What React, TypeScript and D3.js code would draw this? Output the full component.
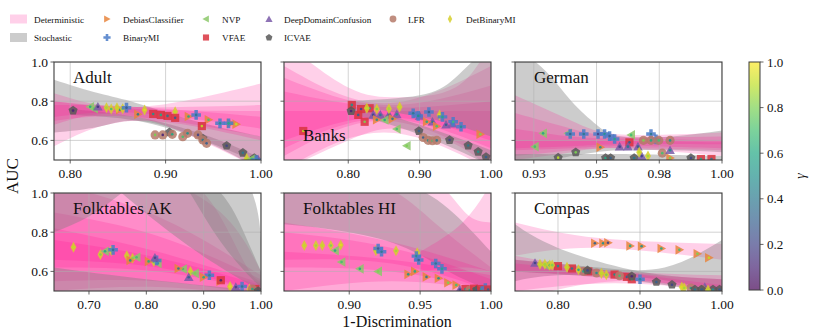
import React from "react";
import * as d3 from "d3";

type Pt = [string, number, number, number]; // method, 1-discrimination, AUC, gamma
type Band = { kind: "det" | "sto"; x: number[]; lo: number[]; hi: number[] };

const methodColor: Record<string, string> = {
  DebiasClassifier: "#e8853d",
  NVP: "#8cc86a",
  DeepDomainConfusion: "#7a5aa8",
  LFR: "#b57a6a",
  DetBinaryMI: "#d6cf2c",
  BinaryMI: "#4a7bc8",
  VFAE: "#d9343f",
  ICVAE: "#585858",
};
const methodMarker: Record<string, string> = {
  DebiasClassifier: "right",
  NVP: "left",
  DeepDomainConfusion: "up",
  LFR: "circle",
  DetBinaryMI: "thin",
  BinaryMI: "plus",
  VFAE: "square",
  ICVAE: "pentagon",
};

// ---- Adult
const adultPoints: Pt[] = [
  ["ICVAE", 0.803, 0.752, 0.1], ["ICVAE", 0.904, 0.641, 0.3], ["ICVAE", 0.939, 0.61, 0.5], ["ICVAE", 0.964, 0.573, 0.2],
  ["ICVAE", 0.981, 0.537, 0.4], ["ICVAE", 0.993, 0.51, 0.6],
  ["NVP", 0.821, 0.772, 0.6], ["NVP", 0.825, 0.762, 0.75],
  ["DeepDomainConfusion", 0.829, 0.772, 0.15], ["DeepDomainConfusion", 0.997, 0.503, 0.2],
  ["DebiasClassifier", 0.852, 0.757, 0.5], ["DebiasClassifier", 0.871, 0.733, 0.4], ["DebiasClassifier", 0.924, 0.722, 0.6],
  ["DebiasClassifier", 0.945, 0.705, 0.7], ["DebiasClassifier", 0.968, 0.687, 0.8], ["DebiasClassifier", 0.974, 0.683, 0.9],
  ["DetBinaryMI", 0.838, 0.767, 0.85], ["DetBinaryMI", 0.843, 0.76, 0.7], ["DetBinaryMI", 0.849, 0.767, 0.9],
  ["DetBinaryMI", 0.855, 0.762, 0.8], ["DetBinaryMI", 0.878, 0.755, 0.95], ["DetBinaryMI", 0.91, 0.746, 0.9],
  ["DetBinaryMI", 0.985, 0.507, 0.9],
  ["BinaryMI", 0.859, 0.767, 0.3], ["BinaryMI", 0.932, 0.73, 0.4], ["BinaryMI", 0.957, 0.687, 0.5], ["BinaryMI", 0.966, 0.687, 0.6],
  ["VFAE", 0.887, 0.735, 0.5], ["VFAE", 0.895, 0.73, 0.6], ["VFAE", 0.902, 0.725, 0.4], ["VFAE", 0.91, 0.715, 0.3],
  ["VFAE", 0.938, 0.673, 0.9],
  ["LFR", 0.889, 0.628, 0.8], ["LFR", 0.897, 0.628, 0.1], ["LFR", 0.907, 0.631, 0.6], ["LFR", 0.918, 0.619, 0.7],
  ["LFR", 0.923, 0.636, 0.5], ["LFR", 0.934, 0.628, 0.2], ["LFR", 0.939, 0.602, 0.4], ["LFR", 0.943, 0.585, 0.3],
  ["NVP", 0.99, 0.505, 0.7], ["BinaryMI", 0.995, 0.5, 0.5],
];
const adultBands: Band[] = [
  { kind: "sto", x: [0.783, 0.83, 0.87, 0.93, 1.0], lo: [0.64, 0.67, 0.7, 0.62, 0.45], hi: [0.91, 0.84, 0.79, 0.7, 0.62] },
  { kind: "sto", x: [0.8, 0.87, 0.94, 1.0], lo: [0.73, 0.7, 0.6, 0.48], hi: [0.76, 0.72, 0.63, 0.51] },
  { kind: "det", x: [0.783, 0.87, 1.0], lo: [0.68, 0.72, 0.45], hi: [0.84, 0.77, 0.89] },
  { kind: "det", x: [0.783, 0.87, 1.0], lo: [0.57, 0.7, 0.6], hi: [0.8, 0.77, 0.78] },
  { kind: "det", x: [0.783, 0.87, 1.0], lo: [0.7, 0.72, 0.62], hi: [0.8, 0.76, 0.75] },
  { kind: "det", x: [0.783, 0.87, 1.0], lo: [0.72, 0.74, 0.66], hi: [0.78, 0.77, 0.72] },
];

// ---- Banks
const banksPoints: Pt[] = [
  ["VFAE", 0.737, 0.648, 0.9], ["VFAE", 0.805, 0.781, 0.5], ["VFAE", 0.814, 0.73, 0.3], ["VFAE", 0.823, 0.695, 0.8],
  ["VFAE", 0.83, 0.764, 0.6], ["VFAE", 0.818, 0.76, 0.2],
  ["ICVAE", 0.804, 0.75, 0.1], ["ICVAE", 0.899, 0.648, 0.3], ["ICVAE", 0.942, 0.602, 0.2], ["ICVAE", 0.968, 0.574, 0.4],
  ["ICVAE", 0.982, 0.542, 0.5], ["ICVAE", 0.993, 0.515, 0.3],
  ["DeepDomainConfusion", 0.835, 0.73, 0.2], ["DeepDomainConfusion", 0.845, 0.73, 0.4], ["DeepDomainConfusion", 0.857, 0.73, 0.3],
  ["DeepDomainConfusion", 0.868, 0.733, 0.5], ["DeepDomainConfusion", 0.9, 0.725, 0.2], ["DeepDomainConfusion", 0.918, 0.695, 0.4],
  ["DeepDomainConfusion", 0.937, 0.68, 0.3], ["DeepDomainConfusion", 0.946, 0.685, 0.6],
  ["DetBinaryMI", 0.826, 0.764, 0.9], ["DetBinaryMI", 0.84, 0.76, 0.8], ["DetBinaryMI", 0.857, 0.762, 0.85],
  ["DetBinaryMI", 0.872, 0.77, 0.9], ["DetBinaryMI", 0.928, 0.73, 0.95],
  ["BinaryMI", 0.891, 0.738, 0.4], ["BinaryMI", 0.898, 0.725, 0.5], ["BinaryMI", 0.913, 0.745, 0.3], ["BinaryMI", 0.932, 0.72, 0.6],
  ["BinaryMI", 0.947, 0.695, 0.7], ["BinaryMI", 0.958, 0.67, 0.5],
  ["NVP", 0.851, 0.704, 0.6], ["NVP", 0.868, 0.658, 0.7], ["NVP", 0.882, 0.573, 0.8],
  ["DebiasClassifier", 0.84, 0.705, 0.5], ["DebiasClassifier", 0.862, 0.71, 0.4], ["DebiasClassifier", 0.91, 0.695, 0.6],
  ["DebiasClassifier", 0.924, 0.672, 0.7], ["DebiasClassifier", 0.985, 0.631, 0.8],
  ["LFR", 0.905, 0.615, 0.3], ["LFR", 0.912, 0.6, 0.5], ["LFR", 0.918, 0.598, 0.7], ["LFR", 0.924, 0.6, 0.4],
];
const banksBands: Band[] = [
  { kind: "det", x: [0.71, 0.8, 0.87, 0.95, 1.0], lo: [0.45, 0.6, 0.66, 0.58, 0.45], hi: [1.1, 0.87, 0.82, 0.87, 1.1] },
  { kind: "det", x: [0.71, 0.85, 1.0], lo: [0.52, 0.7, 0.5], hi: [0.98, 0.79, 0.98] },
  { kind: "det", x: [0.71, 0.85, 1.0], lo: [0.56, 0.71, 0.56], hi: [0.92, 0.78, 0.88] },
  { kind: "det", x: [0.71, 0.85, 1.0], lo: [0.6, 0.72, 0.6], hi: [0.85, 0.77, 0.8] },
  { kind: "det", x: [0.71, 0.85, 1.0], lo: [0.45, 0.64, 0.45], hi: [0.75, 0.75, 0.75] },
  { kind: "sto", x: [0.8, 0.9, 0.95, 1.0], lo: [0.78, 0.72, 0.68, 0.62], hi: [0.8, 0.83, 0.92, 1.1] },
  { kind: "sto", x: [0.8, 0.9, 1.0], lo: [0.74, 0.63, 0.47], hi: [0.78, 0.68, 0.55] },
];

// ---- German
const germanPoints: Pt[] = [
  ["NVP", 0.9254, 0.568, 0.7], ["NVP", 0.9287, 0.636, 0.6], ["NVP", 0.9387, 0.636, 0.8], ["NVP", 0.9638, 0.628, 0.7],
  ["ICVAE", 0.9347, 0.512, 0.9], ["ICVAE", 0.9417, 0.539, 0.8], ["ICVAE", 0.9536, 0.51, 0.6], ["ICVAE", 0.9556, 0.51, 0.3],
  ["ICVAE", 0.965, 0.51, 0.4], ["ICVAE", 0.9876, 0.51, 0.2],
  ["BinaryMI", 0.9395, 0.633, 0.3], ["BinaryMI", 0.9449, 0.633, 0.4], ["BinaryMI", 0.9506, 0.633, 0.2], ["BinaryMI", 0.9532, 0.633, 0.5],
  ["BinaryMI", 0.9552, 0.622, 0.3], ["BinaryMI", 0.9572, 0.607, 0.6], ["BinaryMI", 0.9717, 0.633, 0.4], ["BinaryMI", 0.9737, 0.605, 0.5],
  ["DebiasClassifier", 0.9515, 0.565, 0.5], ["DebiasClassifier", 0.9793, 0.51, 0.8],
  ["VFAE", 0.9631, 0.59, 0.3], ["VFAE", 0.9916, 0.505, 0.6], ["VFAE", 0.9958, 0.505, 0.4],
  ["LFR", 0.9687, 0.6, 0.8], ["LFR", 0.9717, 0.6, 0.6], ["LFR", 0.9748, 0.6, 0.7], ["LFR", 0.9793, 0.6, 0.5], ["LFR", 0.9762, 0.535, 0.7],
  ["DeepDomainConfusion", 0.9592, 0.568, 0.2], ["DeepDomainConfusion", 0.9625, 0.568, 0.4], ["DeepDomainConfusion", 0.9665, 0.568, 0.3],
  ["DeepDomainConfusion", 0.9793, 0.55, 0.5], ["DeepDomainConfusion", 0.968, 0.52, 0.2],
  ["DetBinaryMI", 0.967, 0.54, 0.9], ["DetBinaryMI", 0.9705, 0.52, 0.85],
];
const germanBands: Band[] = [
  { kind: "sto", x: [0.9175, 0.93, 0.94, 0.95, 0.96, 0.98, 1.0], lo: [0.5, 0.5, 0.52, 0.54, 0.55, 0.55, 0.54], hi: [1.08, 0.95, 0.8, 0.68, 0.62, 0.62, 0.65] },
  { kind: "det", x: [0.9175, 0.94, 0.96, 1.0], lo: [0.5, 0.54, 0.56, 0.52], hi: [0.83, 0.7, 0.63, 0.64] },
  { kind: "det", x: [0.9175, 0.94, 0.96, 1.0], lo: [0.55, 0.56, 0.57, 0.56], hi: [0.74, 0.66, 0.62, 0.62] },
  { kind: "det", x: [0.9175, 0.94, 0.96, 1.0], lo: [0.52, 0.55, 0.56, 0.55], hi: [0.66, 0.62, 0.61, 0.6] },
  { kind: "det", x: [0.9175, 0.94, 0.96, 1.0], lo: [0.56, 0.57, 0.58, 0.58], hi: [0.6, 0.6, 0.6, 0.59] },
  { kind: "sto", x: [0.9175, 0.94, 0.96, 1.0], lo: [0.49, 0.49, 0.5, 0.5], hi: [0.53, 0.53, 0.53, 0.52] },
];

// ---- Folktables AK
const akPoints: Pt[] = [
  ["DetBinaryMI", 0.673, 0.723, 0.9], ["DetBinaryMI", 0.72, 0.686, 0.8], ["DetBinaryMI", 0.739, 0.706, 0.85],
  ["DetBinaryMI", 0.766, 0.68, 0.9], ["DetBinaryMI", 0.776, 0.667, 0.8], ["DetBinaryMI", 0.813, 0.651, 0.7],
  ["DetBinaryMI", 0.877, 0.6, 0.9], ["DetBinaryMI", 0.946, 0.523, 0.95], ["DetBinaryMI", 0.98, 0.51, 0.9],
  ["NVP", 0.728, 0.703, 0.6], ["NVP", 0.783, 0.672, 0.7], ["NVP", 0.82, 0.641, 0.6], ["NVP", 0.864, 0.612, 0.7], ["NVP", 0.885, 0.59, 0.8],
  ["BinaryMI", 0.742, 0.71, 0.4], ["BinaryMI", 0.818, 0.656, 0.3], ["BinaryMI", 0.91, 0.58, 0.5], ["BinaryMI", 0.967, 0.523, 0.4],
  ["DebiasClassifier", 0.772, 0.656, 0.5], ["DebiasClassifier", 0.804, 0.651, 0.6], ["DebiasClassifier", 0.856, 0.615, 0.4],
  ["DebiasClassifier", 0.9, 0.57, 0.6], ["DebiasClassifier", 0.929, 0.55, 0.7],
  ["VFAE", 0.93, 0.555, 0.1], ["VFAE", 0.99, 0.51, 0.5],
  ["DeepDomainConfusion", 0.815, 0.67, 0.2], ["DeepDomainConfusion", 0.874, 0.57, 0.3], ["DeepDomainConfusion", 0.956, 0.52, 0.2],
  ["LFR", 0.985, 0.51, 0.6], ["ICVAE", 0.995, 0.5, 0.3],
];
const akBands: Band[] = [
  { kind: "det", x: [0.639, 0.8, 0.9, 0.97, 1.0], lo: [0.45, 0.5, 0.5, 0.48, 0.45], hi: [1.2, 1.1, 1.0, 0.65, 0.55] },
  { kind: "det", x: [0.639, 0.8, 0.93, 1.0], lo: [0.45, 0.45, 0.45, 0.45], hi: [1.2, 1.1, 0.9, 0.6] },
  { kind: "det", x: [0.639, 0.82, 1.0], lo: [0.5, 0.52, 0.47], hi: [1.05, 0.88, 0.58] },
  { kind: "det", x: [0.639, 0.82, 1.0], lo: [0.55, 0.55, 0.48], hi: [0.9, 0.78, 0.56] },
  { kind: "det", x: [0.639, 0.82, 1.0], lo: [0.62, 0.6, 0.5], hi: [0.82, 0.7, 0.54] },
  { kind: "det", x: [0.639, 0.82, 1.0], lo: [0.66, 0.62, 0.5], hi: [0.76, 0.67, 0.53] },
  { kind: "sto", x: [0.639, 0.8, 1.0], lo: [0.46, 0.48, 0.45], hi: [0.62, 0.56, 0.5] },
  { kind: "sto", x: [0.639, 0.7, 0.757], lo: [0.8, 0.88, 1.0], hi: [1.2, 1.2, 1.2] },
  { kind: "sto", x: [0.7, 0.757, 0.85, 0.93, 0.97, 1.0], lo: [1.15, 1.0, 0.78, 0.62, 0.55, 0.5], hi: [1.5, 1.4, 1.2, 1.0, 0.8, 0.6] },
  { kind: "sto", x: [0.85, 0.876, 0.93, 0.985, 1.0], lo: [1.1, 1.0, 0.75, 0.56, 0.52], hi: [1.6, 1.5, 1.3, 1.0, 0.75] },
];

// ---- Folktables HI
const hiPoints: Pt[] = [
  ["DetBinaryMI", 0.8683, 0.732, 0.9], ["DetBinaryMI", 0.8765, 0.732, 0.85], ["DetBinaryMI", 0.881, 0.732, 0.9],
  ["DetBinaryMI", 0.887, 0.732, 0.8], ["DetBinaryMI", 0.894, 0.735, 0.95], ["DetBinaryMI", 0.9188, 0.706, 0.9],
  ["DetBinaryMI", 0.933, 0.705, 0.85], ["DetBinaryMI", 0.948, 0.695, 0.95],
  ["NVP", 0.89, 0.706, 0.6], ["NVP", 0.8946, 0.648, 0.7], ["NVP", 0.9075, 0.613, 0.6], ["NVP", 0.9204, 0.6, 0.8],
  ["BinaryMI", 0.9204, 0.717, 0.3], ["BinaryMI", 0.9228, 0.7, 0.4], ["BinaryMI", 0.9474, 0.678, 0.5], ["BinaryMI", 0.949, 0.658, 0.3],
  ["BinaryMI", 0.961, 0.64, 0.4], ["BinaryMI", 0.9654, 0.613, 0.6],
  ["DebiasClassifier", 0.9416, 0.585, 0.5], ["DebiasClassifier", 0.9463, 0.6, 0.6], ["DebiasClassifier", 0.9545, 0.572, 0.4],
  ["DebiasClassifier", 0.963, 0.565, 0.5], ["DebiasClassifier", 0.9697, 0.542, 0.8], ["DebiasClassifier", 0.9755, 0.53, 0.7],
  ["DeepDomainConfusion", 0.978, 0.508, 0.2], ["VFAE", 0.982, 0.51, 0.5], ["LFR", 0.985, 0.505, 0.6], ["VFAE", 0.988, 0.512, 0.4],
  ["ICVAE", 0.99, 0.505, 0.3], ["VFAE", 0.993, 0.51, 0.6], ["BinaryMI", 0.996, 0.515, 0.5], ["VFAE", 0.998, 0.508, 0.3],
];
const hiBands: Band[] = [
  { kind: "det", x: [0.854, 0.94, 0.97, 0.985, 1.0], lo: [0.48, 0.5, 0.5, 0.5, 0.5], hi: [1.2, 1.1, 1.0, 0.88, 0.85] },
  { kind: "det", x: [0.854, 0.92, 0.96, 1.0], lo: [0.47, 0.48, 0.48, 0.47], hi: [1.15, 1.05, 0.85, 0.62] },
  { kind: "sto", x: [0.854, 0.9, 0.94, 0.97, 1.0], lo: [0.84, 0.8, 0.72, 0.6, 0.5], hi: [1.25, 1.15, 1.05, 0.92, 0.7] },
  { kind: "det", x: [0.854, 0.93, 1.0], lo: [0.62, 0.6, 0.5], hi: [0.85, 0.75, 0.6] },
  { kind: "det", x: [0.854, 0.93, 1.0], lo: [0.66, 0.64, 0.5], hi: [0.8, 0.72, 0.56] },
  { kind: "det", x: [0.854, 0.93, 1.0], lo: [0.5, 0.55, 0.5], hi: [0.7, 0.66, 0.58] },
  { kind: "det", x: [0.95, 0.98, 1.0], lo: [0.6, 0.62, 0.6], hi: [0.7, 0.85, 1.05] },
];

// ---- Compas
const compasPoints: Pt[] = [
  ["DebiasClassifier", 0.845, 0.744, 0.3], ["DebiasClassifier", 0.855, 0.744, 0.5], ["DebiasClassifier", 0.861, 0.746, 0.2],
  ["DebiasClassifier", 0.888, 0.73, 0.6], ["DebiasClassifier", 0.902, 0.728, 0.5], ["DebiasClassifier", 0.926, 0.717, 0.6],
  ["DebiasClassifier", 0.948, 0.71, 0.7], ["DebiasClassifier", 0.97, 0.69, 0.8], ["DebiasClassifier", 0.984, 0.67, 0.9],
  ["DeepDomainConfusion", 0.772, 0.643, 0.2], ["DeepDomainConfusion", 0.979, 0.52, 0.3],
  ["VFAE", 0.8, 0.627, 0.5], ["VFAE", 0.817, 0.615, 0.4], ["VFAE", 0.837, 0.6, 0.6], ["VFAE", 0.869, 0.584, 0.5],
  ["VFAE", 0.884, 0.572, 0.3], ["VFAE", 0.89, 0.56, 0.7],
  ["LFR", 0.831, 0.6, 0.6], ["LFR", 0.847, 0.592, 0.5], ["LFR", 0.875, 0.578, 0.7], ["LFR", 0.962, 0.515, 0.6], ["LFR", 0.976, 0.507, 0.5],
  ["ICVAE", 0.836, 0.605, 0.2], ["ICVAE", 0.89, 0.575, 0.1], ["ICVAE", 0.92, 0.546, 0.3], ["ICVAE", 0.939, 0.532, 0.2],
  ["ICVAE", 0.967, 0.508, 0.4], ["ICVAE", 0.975, 0.508, 0.3], ["ICVAE", 0.989, 0.508, 0.5], ["ICVAE", 0.997, 0.508, 0.3],
  ["NVP", 0.785, 0.63, 0.6],
  ["DetBinaryMI", 0.778, 0.636, 0.9], ["DetBinaryMI", 0.784, 0.636, 0.85], ["DetBinaryMI", 0.79, 0.632, 0.7],
  ["DetBinaryMI", 0.793, 0.632, 0.8], ["DetBinaryMI", 0.811, 0.621, 0.9], ["DetBinaryMI", 0.825, 0.608, 0.6],
  ["DetBinaryMI", 0.853, 0.59, 0.9], ["DetBinaryMI", 0.859, 0.583, 0.8], ["DetBinaryMI", 0.951, 0.52, 0.95],
  ["DetBinaryMI", 0.954, 0.515, 0.85], ["DetBinaryMI", 0.983, 0.505, 0.9],
  ["BinaryMI", 0.9, 0.56, 0.5],
];
const compasBands: Band[] = [
  { kind: "det", x: [0.7476, 0.85, 1.0], lo: [0.68, 0.72, 0.66], hi: [0.85, 0.77, 0.74] },
  { kind: "sto", x: [0.7476, 0.8, 0.9, 1.0], lo: [0.55, 0.58, 0.57, 0.5], hi: [0.84, 0.72, 0.6, 0.56] },
  { kind: "sto", x: [0.7476, 0.85, 0.93, 1.0], lo: [0.6, 0.57, 0.53, 0.48], hi: [0.66, 0.62, 0.62, 0.76] },
  { kind: "det", x: [0.7476, 0.87, 1.0], lo: [0.5, 0.54, 0.5], hi: [0.68, 0.6, 0.56] },
  { kind: "det", x: [0.7476, 0.87, 1.0], lo: [0.6, 0.57, 0.5], hi: [0.66, 0.6, 0.53] },
  { kind: "det", x: [0.7476, 0.87, 1.0], lo: [0.45, 0.55, 0.49], hi: [0.64, 0.6, 0.58] },
];

const yTicks = [0.6, 0.8, 1.0];
const yTickLabels = ["0.6", "0.8", "1.0"];
const cbTicks = [0, 0.2, 0.4, 0.6, 0.8, 1.0];

const panels = [
  { name: "Adult", row: 0, col: 0, dom: [0.783, 1.0], ticks: [0.8, 0.9, 1.0], labels: ["0.80", "0.90", "1.00"], bands: adultBands, pts: adultPoints, ty: 21 },
  { name: "Banks", row: 0, col: 1, dom: [0.71, 1.0], ticks: [0.8, 0.9, 1.0], labels: ["0.80", "0.90", "1.00"], bands: banksBands, pts: banksPoints, ty: 79 },
  { name: "German", row: 0, col: 2, dom: [0.9175, 1.0], ticks: [0.925, 0.95, 0.975, 1.0], labels: ["0.93", "0.95", "0.98", "1.00"], bands: germanBands, pts: germanPoints, ty: 21 },
  { name: "Folktables AK", row: 1, col: 0, dom: [0.639, 1.0], ticks: [0.7, 0.8, 0.9, 1.0], labels: ["0.70", "0.80", "0.90", "1.00"], bands: akBands, pts: akPoints, ty: 21 },
  { name: "Folktables HI", row: 1, col: 1, dom: [0.854, 1.0], ticks: [0.9, 0.95, 1.0], labels: ["0.90", "0.95", "1.00"], bands: hiBands, pts: hiPoints, ty: 21 },
  { name: "Compas", row: 1, col: 2, dom: [0.7476, 1.0], ticks: [0.8, 0.9, 1.0], labels: ["0.80", "0.90", "1.00"], bands: compasBands, pts: compasPoints, ty: 21 },
];

const colX = [54, 284, 515];
const rowY = [62, 193];
const PW = 207;
const PH = 98;
const FONT = "Liberation Serif, DejaVu Serif, serif";
const AXIS = "#3c3c3c";

function markerPath(kind: string, r: number): string {
  const p = d3.path();
  const poly = (pts: number[][]) => {
    pts.forEach(([x, y], i) => (i ? p.lineTo(x, y) : p.moveTo(x, y)));
    p.closePath();
  };
  if (kind === "circle") p.arc(0, 0, r * 0.95, 0, 2 * Math.PI);
  else if (kind === "square") poly([[-r * 0.85, -r * 0.85], [r * 0.85, -r * 0.85], [r * 0.85, r * 0.85], [-r * 0.85, r * 0.85]]);
  else if (kind === "up") poly([[0, -r], [r, r * 0.8], [-r, r * 0.8]]);
  else if (kind === "right") poly([[r, 0], [-r * 0.8, -r], [-r * 0.8, r]]);
  else if (kind === "left") poly([[-r, 0], [r * 0.8, -r], [r * 0.8, r]]);
  else if (kind === "thin") poly([[0, -r * 1.15], [r * 0.62, 0], [0, r * 1.15], [-r * 0.62, 0]]);
  else if (kind === "plus") {
    const a = r, w = r * 0.36;
    poly([[-w, -a], [w, -a], [w, -w], [a, -w], [a, w], [w, w], [w, a], [-w, a], [-w, w], [-a, w], [-a, -w], [-w, -w]]);
  } else if (kind === "pentagon") {
    poly(d3.range(5).map((k) => {
      const t = -Math.PI / 2 + (k * 2 * Math.PI) / 5;
      return [r * Math.cos(t), r * Math.sin(t)];
    }));
  }
  return p.toString();
}

function Panel({ cfg, idx }: { cfg: (typeof panels)[number]; idx: number }) {
  const x0 = colX[cfg.col];
  const y0 = rowY[cfg.row];
  const xs = d3.scaleLinear().domain(cfg.dom).range([0, PW]);
  const ys = d3.scaleLinear().domain([0.5, 1.0]).range([PH, 0]);
  const area = d3
    .area<{ x: number; lo: number; hi: number }>()
    .x((d) => xs(d.x))
    .y0((d) => ys(d.lo))
    .y1((d) => ys(d.hi))
    .curve(d3.curveNatural);
  return (
    <g transform={`translate(${x0},${y0})`}>
      <defs>
        <clipPath id={`clip${idx}`}>
          <rect width={PW} height={PH} />
        </clipPath>
      </defs>
      <g clipPath={`url(#clip${idx})`}>
        {cfg.bands.map((b, i) => (
          <path
            key={i}
            d={area(b.x.map((x, k) => ({ x, lo: b.lo[k], hi: b.hi[k] }))) || ""}
            fill={b.kind === "det" ? "#ff1493" : "#808080"}
            fillOpacity={b.kind === "det" ? 0.2 : 0.4}
          />
        ))}
        {cfg.ticks.map((t) => (
          <line key={"gx" + t} x1={xs(t)} x2={xs(t)} y1={0} y2={PH} stroke="#b0b0b0" strokeOpacity={0.7} strokeWidth={0.8} />
        ))}
        {yTicks.map((t) => (
          <line key={"gy" + t} x1={0} x2={PW} y1={ys(t)} y2={ys(t)} stroke="#b0b0b0" strokeOpacity={0.7} strokeWidth={0.8} />
        ))}
        {cfg.pts.map(([m, x, y, g], i) => (
          <g key={i} transform={`translate(${xs(x)},${ys(y)})`}>
            <path d={markerPath(methodMarker[m], 4.8)} fill={methodColor[m]} fillOpacity={0.85} />
            <circle r={1.3} fill={d3.interpolateViridis(g)} fillOpacity={0.9} />
          </g>
        ))}
      </g>
      <text x={19} y={cfg.ty} fontFamily={FONT} fontSize={17} fill="#111">
        {cfg.name}
      </text>
      <rect width={PW} height={PH} fill="none" stroke={AXIS} strokeWidth={1.1} />
      {cfg.ticks.map((t, i) => (
        <g key={"tx" + t} transform={`translate(${xs(t)},${PH})`}>
          <line y2={3.5} stroke={AXIS} strokeWidth={0.8} />
          <text y={18} textAnchor="middle" fontFamily={FONT} fontSize={13.5} fill="#111">
            {cfg.labels[i]}
          </text>
        </g>
      ))}
      {yTicks.map((t, i) => (
        <g key={"ty" + t} transform={`translate(0,${ys(t)})`}>
          <line x2={-3.5} stroke={AXIS} strokeWidth={0.8} />
          {cfg.col === 0 && (
            <text x={-6} dy="0.35em" textAnchor="end" fontFamily={FONT} fontSize={13.5} fill="#111">
              {yTickLabels[i]}
            </text>
          )}
        </g>
      ))}
    </g>
  );
}

const legendItems = [
  { label: "Deterministic", type: "det", x: 10, row: 0, tx: 34 },
  { label: "Stochastic", type: "sto", x: 10, row: 1, tx: 34 },
  { label: "DebiasClassifier", type: "m", x: 107, row: 0, tx: 123 },
  { label: "BinaryMI", type: "m", x: 107, row: 1, tx: 123 },
  { label: "NVP", type: "m", x: 206, row: 0, tx: 222 },
  { label: "VFAE", type: "m", x: 206, row: 1, tx: 222 },
  { label: "DeepDomainConfusion", type: "m", x: 269, row: 0, tx: 284 },
  { label: "ICVAE", type: "m", x: 269, row: 1, tx: 284 },
  { label: "LFR", type: "m", x: 393, row: 0, tx: 408 },
  { label: "DetBinaryMI", type: "m", x: 450, row: 0, tx: 466 },
];

export default function App() {
  const cbScale = d3.scaleLinear().domain([0, 1]).range([290, 62]);
  const stops = d3.range(0, 1.0001, 0.1);
  return (
    <svg width={830} height={336} style={{ display: "block", position: "absolute", left: 0, top: 0, background: "#fff" }}>
      <defs>
        <linearGradient id="viridisGrad" x1="0" y1="1" x2="0" y2="0">
          {stops.map((s) => (
            <stop key={s} offset={s} stopColor={d3.interpolateViridis(s)} stopOpacity={0.7} />
          ))}
        </linearGradient>
      </defs>
      {legendItems.map((it) => {
        const cy = it.row === 0 ? 19 : 37.5;
        return (
          <g key={it.label}>
            {it.type === "m" ? (
              <path
                transform={`translate(${it.x},${cy})`}
                d={markerPath(methodMarker[it.label], 3.6)}
                fill={methodColor[it.label]}
                fillOpacity={0.85}
              />
            ) : (
              <rect
                x={it.x}
                y={cy - 4.5}
                width={17}
                height={9}
                fill={it.type === "det" ? "#ff1493" : "#808080"}
                fillOpacity={it.type === "det" ? 0.2 : 0.4}
              />
            )}
            <text x={it.tx} y={cy + 3.5} fontFamily={FONT} fontSize={9.2} fill="#111">
              {it.label}
            </text>
          </g>
        );
      })}
      {panels.map((p, i) => (
        <Panel key={p.name} cfg={p} idx={i} />
      ))}
      <text transform="translate(18,176) rotate(-90)" textAnchor="middle" fontFamily={FONT} fontSize={17} fill="#111">
        AUC
      </text>
      <text x={397} y={327} textAnchor="middle" fontFamily={FONT} fontSize={16} fill="#111">
        1-Discrimination
      </text>
      <rect x={749} y={62} width={11} height={228} fill="url(#viridisGrad)" stroke={AXIS} strokeWidth={1} />
      {cbTicks.map((t) => (
        <g key={t} transform={`translate(760,${cbScale(t)})`}>
          <line x2={3.5} stroke={AXIS} strokeWidth={0.8} />
          <text x={7} dy="0.35em" fontFamily={FONT} fontSize={13} fill="#111">
            {t.toFixed(1)}
          </text>
        </g>
      ))}
      <text transform="translate(805,176) rotate(-90)" textAnchor="middle" fontFamily={FONT} fontSize={14} fontStyle="italic" fill="#111">
        γ
      </text>
    </svg>
  );
}
